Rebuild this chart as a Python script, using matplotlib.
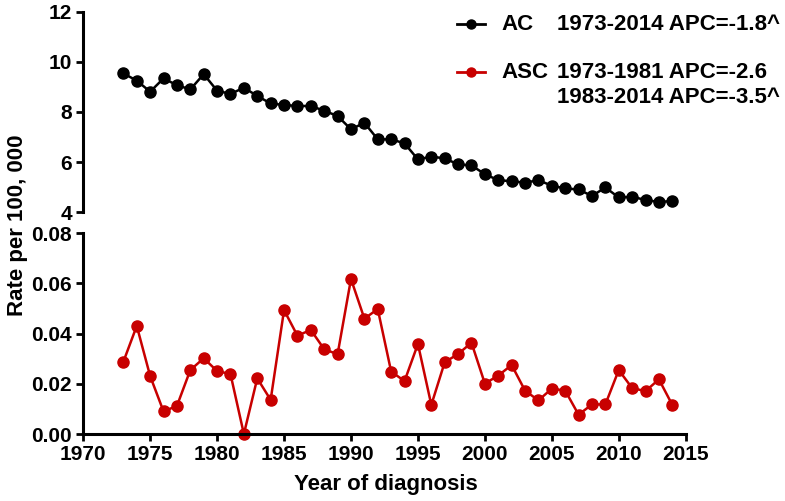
import numpy as np
import matplotlib
matplotlib.use('Agg')
import matplotlib.pyplot as plt
from matplotlib.lines import Line2D
from matplotlib.ticker import FormatStrFormatter

plt.rcParams['font.family'] = ['Liberation Sans', 'DejaVu Sans']
plt.rcParams['font.weight'] = 'bold'

# data
years = np.arange(1973, 2015)
ac_rate = [9.54, 9.25, 8.81, 9.34, 9.07, 8.90, 9.51, 8.85, 8.72, 8.97,
           8.64, 8.34, 8.28, 8.24, 8.24, 8.05, 7.84, 7.31, 7.57, 6.91,
           6.91, 6.75, 6.11, 6.22, 6.15, 5.91, 5.87, 5.52, 5.28, 5.24,
           5.18, 5.28, 5.06, 4.95, 4.91, 4.65, 4.99, 4.59, 4.62, 4.49,
           4.41, 4.45]
asc_rate = [0.0288, 0.0431, 0.0231, 0.0090, 0.0112, 0.0255, 0.0302, 0.0251,
            0.0239, 0.0000, 0.0222, 0.0136, 0.0494, 0.0392, 0.0415, 0.0338,
            0.0318, 0.0618, 0.0460, 0.0498, 0.0249, 0.0211, 0.0359, 0.0116,
            0.0286, 0.0319, 0.0364, 0.0201, 0.0233, 0.0275, 0.0173, 0.0134,
            0.0181, 0.0173, 0.0077, 0.0118, 0.0118, 0.0255, 0.0183, 0.0171,
            0.0218, 0.0116]
xticks = [1970, 1975, 1980, 1985, 1990, 1995, 2000, 2005, 2010, 2015]
top_ticks = [4, 6, 8, 10, 12]
bottom_ticks = [0.00, 0.02, 0.04, 0.06, 0.08]
legend_rows = [("AC", ["1973-2014 APC=-1.8^"]),
               ("ASC", ["1973-1981 APC=-2.6", "1983-2014 APC=-3.5^"])]

RED = '#c80000'
fs = 15
lfs = 16

fig = plt.figure(figsize=(7.85, 5.01), dpi=100)
ax_top = fig.add_axes([0.106, 0.5763, 0.7675, 0.4003])
ax_bot = fig.add_axes([0.106, 0.1337, 0.7675, 0.4006])

ax_top.plot(years, ac_rate, color='black', lw=1.8, marker='o', ms=8, clip_on=False)
ax_bot.plot(years, asc_rate, color=RED, lw=1.8, marker='o', ms=8, clip_on=False)

for ax in (ax_top, ax_bot):
    ax.set_xlim(1970, 2015)
    ax.spines['top'].set_visible(False)
    ax.spines['right'].set_visible(False)
    ax.spines['left'].set_linewidth(2.2)
    ax.spines['bottom'].set_linewidth(2.2)
    ax.tick_params(width=2, length=5, labelsize=fs, direction='out', pad=3)
    for lbl in ax.get_xticklabels() + ax.get_yticklabels():
        lbl.set_fontweight('bold')

ax_top.set_ylim(4, 12)
ax_top.set_yticks(top_ticks)
ax_top.spines['bottom'].set_visible(False)
ax_top.tick_params(axis='x', bottom=False, labelbottom=False)

ax_bot.set_ylim(0, 0.08)
ax_bot.set_yticks(bottom_ticks)
ax_bot.yaxis.set_major_formatter(FormatStrFormatter('%.2f'))
ax_bot.set_xticks(xticks)

fig.text(0.492, 0.032, "Year of diagnosis", ha='center', va='center',
         fontsize=lfs, fontweight='bold')
fig.text(0.022, 0.55, "Rate per 100, 000", ha='center', va='center',
         rotation=90, fontsize=lfs, fontweight='bold')

# legend drawn by hand so the APC notes line up
colors = ['black', RED]
row_y = [0.952, 0.856]
for (name, notes), c, y in zip(legend_rows, colors, row_y):
    fig.add_artist(Line2D([0.582, 0.618], [y, y], color=c, lw=2,
                          transform=fig.transFigure))
    fig.add_artist(Line2D([0.600], [y], color=c, marker='o', ms=6.5,
                          transform=fig.transFigure))
    fig.text(0.639, y, name, ha='left', va='center', fontsize=lfs, fontweight='bold')
    for i, note in enumerate(notes):
        fig.text(0.709, y - i * 0.05, note, ha='left', va='center',
                 fontsize=lfs, fontweight='bold')

fig.savefig('out.png', dpi=100)
